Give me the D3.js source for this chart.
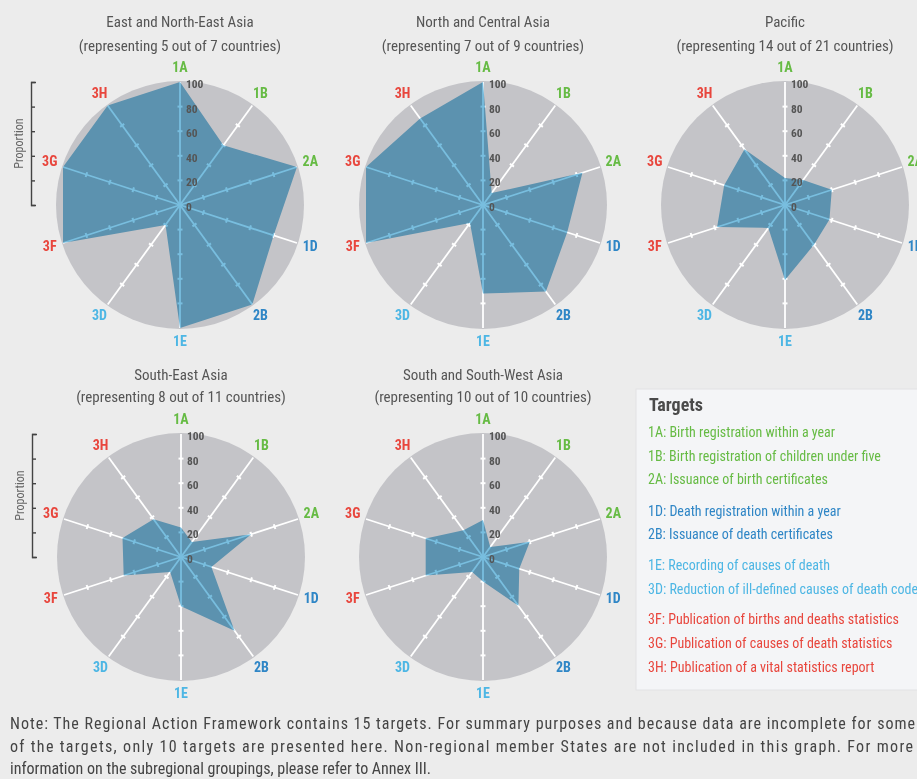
<!DOCTYPE html>
<html>
<head>
<meta charset="utf-8">
<script src="https://cdn.jsdelivr.net/npm/d3@7"></script>
<style>
  html, body { margin: 0; padding: 0; background: #ececec; }
  svg { display: block; }
  text { font-family: "Liberation Sans Narrow", "Roboto Condensed", "DejaVu Sans Condensed", "Liberation Sans", sans-serif; font-stretch: condensed; }
</style>
</head>
<body>
<svg id="chart" width="917" height="779"></svg>
<script>
// ---------------- DATA ----------------
const targets = ["1A", "1B", "2A", "1D", "2B", "1E", "3D", "3F", "3G", "3H"];
const targetGroup = ["birth", "birth", "birth", "death", "death", "cause", "cause", "pub", "pub", "pub"];

const regionTitles = ["East and North-East Asia", "North and Central Asia", "Pacific", "South-East Asia", "South and South-West Asia"];
const regionSubtitles = [
  "(representing 5 out of 7 countries)",
  "(representing 7 out of 9 countries)",
  "(representing 14 out of 21 countries)",
  "(representing 8 out of 11 countries)",
  "(representing 10 out of 10 countries)"
];

// values per target, in the order of `targets`
const eastNorthEastAsia   = [100, 60, 100, 80, 100, 100, 20, 100, 100, 100];
const northCentralAsia    = [100, 12, 85, 72, 87, 72, 18, 100, 100, 87];
const pacific             = [22, 25, 40, 38, 40, 61, 23, 58, 52, 56];
const southEastAsia       = [24, 15, 60, 26, 74, 40, 15, 49, 50, 38];
const southSouthWestAsia  = [30, 10, 40, 31, 49, 20, 15, 49, 49, 27];

const radialTicks = [0, 20, 40, 60, 80, 100];

const legendTitle = "Targets";
const legendLabels = [
  "1A: Birth registration within a year",
  "1B: Birth registration of children under five",
  "2A: Issuance of birth certificates",
  "1D: Death registration within a year",
  "2B: Issuance of death  certificates",
  "1E: Recording of causes of death",
  "3D: Reduction of ill-defined causes of death codes",
  "3F: Publication of births and deaths statistics",
  "3G: Publication of causes of death statistics",
  "3H: Publication of a vital statistics report"
];

const noteLines = [
  "Note: The Regional Action Framework contains 15 targets. For summary purposes and because data are incomplete for some",
  "of the targets, only 10 targets are presented here. Non-regional member States are not included in this graph. For more",
  "information on the subregional groupings, please refer to Annex III."
];

// ---------------- STYLE / LAYOUT ----------------
const groupColor = { birth: "#66bb44", death: "#2f86c6", cause: "#4db6e4", pub: "#e8463d" };
const series = [eastNorthEastAsia, northCentralAsia, pacific, southEastAsia, southSouthWestAsia];
const centers = [[180, 205], [483, 205], [785, 205], [181, 557], [483, 557]];
const titleY = [[27, 51], [27, 51], [27, 51], [380, 402], [380, 402]];
const showProportion = [true, false, false, true, false];
const R = 123;

const svg = d3.select("#chart");
svg.append("rect").attr("width", 917).attr("height", 779).attr("fill", "#ececec");

const rScale = d3.scaleLinear().domain([0, 100]).range([0, R]);
const aScale = d3.scaleLinear().domain([0, targets.length]).range([0, 2 * Math.PI]);

series.forEach((vals, i) => {
  const [cx, cy] = centers[i];
  const g = svg.append("g").attr("transform", `translate(${cx},${cy})`);

  // titles
  svg.append("text").attr("x", cx).attr("y", titleY[i][0]).attr("text-anchor", "middle")
    .attr("font-size", 15).attr("fill", "#555").text(regionTitles[i]);
  svg.append("text").attr("x", cx).attr("y", titleY[i][1]).attr("text-anchor", "middle")
    .attr("font-size", 15).attr("fill", "#555").text(regionSubtitles[i]);

  // background disc
  g.append("circle").attr("r", R + 1).attr("fill", "#c4c4c8");

  // axes
  targets.forEach((t, k) => {
    const a = aScale(k);
    const sx = Math.sin(a), sy = -Math.cos(a);
    g.append("line").attr("x1", 0).attr("y1", 0)
      .attr("x2", rScale(100) * sx).attr("y2", rScale(100) * sy)
      .attr("stroke", "#ffffff").attr("stroke-width", 1.8);
    radialTicks.filter(v => v > 0 && v < 100).forEach(v => {
      const px = rScale(v) * sx, py = rScale(v) * sy;
      const nx = -sy * 2.5, ny = sx * 2.5;
      g.append("line").attr("x1", px - nx).attr("y1", py - ny).attr("x2", px + nx).attr("y2", py + ny)
        .attr("stroke", "#ffffff").attr("stroke-width", 2);
    });
  });

  // data polygon
  const radial = d3.lineRadial()
    .angle((d, k) => aScale(k))
    .radius(d => rScale(d))
    .curve(d3.curveLinearClosed);
  g.append("path").datum(vals).attr("d", radial)
    .attr("fill", "#78bedf").style("mix-blend-mode", "multiply");

  // radial tick labels on 1A axis
  radialTicks.forEach(v => {
    g.append("text").attr("x", 6).attr("y", -rScale(v) + 3)
      .attr("dominant-baseline", "middle")
      .attr("font-size", 11.5).attr("font-weight", "bold").attr("fill", "#555").text(v);
  });

  // target labels
  targets.forEach((t, k) => {
    const a = aScale(k);
    const lr = R + 14;
    g.append("text").attr("x", lr * Math.sin(a)).attr("y", -lr * Math.cos(a))
      .attr("text-anchor", "middle").attr("dominant-baseline", "middle")
      .attr("font-size", 14).attr("font-weight", "bold")
      .attr("fill", groupColor[targetGroup[k]]).text(t);
  });

  // proportion bracket
  if (showProportion[i]) {
    const yScale = d3.scaleLinear().domain([0, 100]).range([cy, cy - R]);
    const ax = svg.append("g").attr("transform", `translate(${cx - 149},0)`)
      .call(d3.axisRight(yScale).tickValues(radialTicks).tickSizeInner(4).tickSizeOuter(5).tickFormat(""));
    ax.selectAll("path, line").attr("stroke", "#444").attr("stroke-width", 1.4);
    svg.append("text")
      .attr("transform", `translate(${cx - 157},${cy - R / 2}) rotate(-90)`)
      .attr("text-anchor", "middle").attr("font-size", 12).attr("fill", "#666").text("Proportion");
  }
});

// ---------------- LEGEND ----------------
const lg = svg.append("g");
lg.append("rect").attr("x", 636).attr("y", 389).attr("width", 290).attr("height", 301)
  .attr("fill", "#f4f5f7").attr("stroke", "#e2e2e4");
lg.append("text").attr("x", 649).attr("y", 411).attr("font-size", 18).attr("font-weight", "bold")
  .attr("fill", "#4a4a4a").text(legendTitle);
const legendY = [433, 457, 480, 512, 535, 566, 590, 620, 644, 668];
legendLabels.forEach((l, k) => {
  lg.append("text").attr("x", 648).attr("y", legendY[k]).attr("dominant-baseline", "middle")
    .attr("font-size", 14).attr("fill", groupColor[targetGroup[k]]).text(l);
});

// ---------------- NOTE ----------------
const noteY = [729, 752, 774];
const noteW = [905, 903, null];
noteLines.forEach((l, k) => {
  const t = svg.append("text").attr("x", 10).attr("y", noteY[k]).attr("font-size", 16)
    .attr("fill", "#444").text(l);
  if (noteW[k]) t.attr("textLength", noteW[k]).attr("lengthAdjust", "spacing");
});
</script>
</body>
</html>
